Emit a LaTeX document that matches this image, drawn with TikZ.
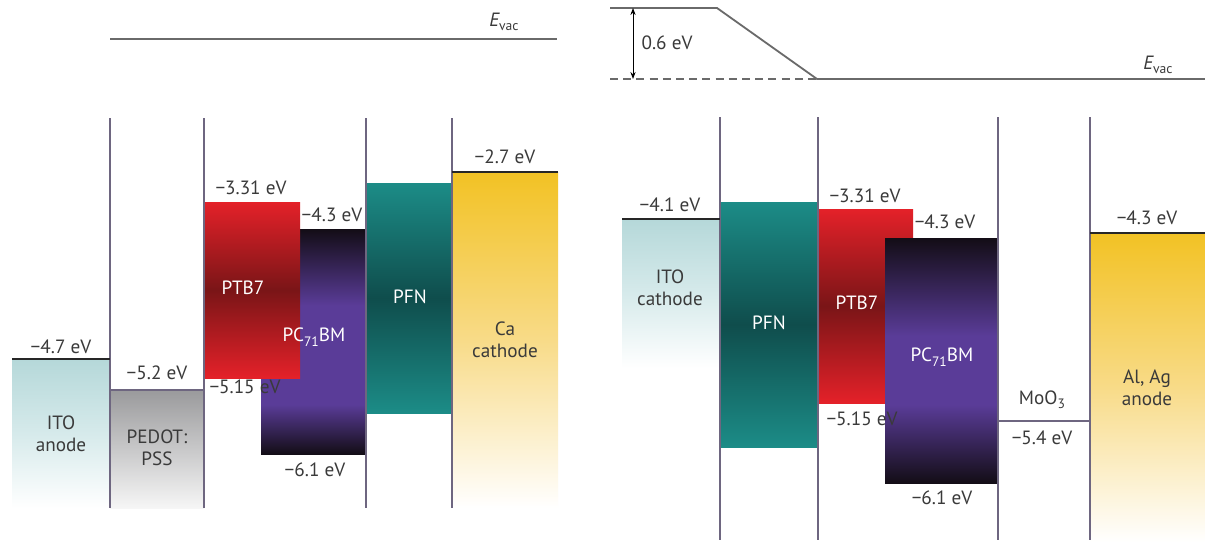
\documentclass[tikz,border=0pt]{standalone}
\usepackage{fontspec}
\setmainfont{PT Sans}
\usetikzlibrary{arrows.meta}
\definecolor{txt}{HTML}{3A3A3A}
\definecolor{sep}{HTML}{6E6680}
\definecolor{itoC}{HTML}{B5D8D9}
\definecolor{itoM}{HTML}{D6EAEB}
\definecolor{pedT}{HTML}{9A9A9C}
\definecolor{pedB}{HTML}{F6F6F6}
\definecolor{redB}{HTML}{E42129}
\definecolor{redD}{HTML}{7A1517}
\definecolor{purD}{HTML}{130D16}
\definecolor{purM}{HTML}{5A3C98}
\definecolor{pfnB}{HTML}{1C8C87}
\definecolor{pfnD}{HTML}{0F4D4C}
\definecolor{yelT}{HTML}{F2C224}
\definecolor{yelM}{HTML}{F8DB88}
\definecolor{vacC}{HTML}{6A6A6A}
% the path is mapped onto the band 25bp..75bp of the shading
\pgfdeclareverticalshading{pursL}{100bp}{color(0bp)=(purD); color(25bp)=(purD); color(36bp)=(purM); color(58bp)=(purM); color(75bp)=(purD); color(100bp)=(purD)}
\pgfdeclareverticalshading{pursR}{100bp}{color(0bp)=(purD); color(25bp)=(purD); color(41bp)=(purM); color(55bp)=(purM); color(75bp)=(purD); color(100bp)=(purD)}
\newcommand\mn{−}
\newcommand\lsub[1]{\raisebox{-0.45ex}{\fontsize{6.8}{7}\selectfont #1}}
\begin{document}
\begin{tikzpicture}[x=0.5pt,y=-0.5pt,
  lbl/.style={font=\fontsize{9.6}{11}\selectfont, text=txt, inner sep=0pt, align=center},
  wlbl/.style={lbl, text=white},
  sepline/.style={draw=sep, line width=0.65pt},
  lvl/.style={draw=black!85, line width=0.6pt},
  vac/.style={draw=vacC, line width=0.9pt},
  redbox/.style={top color=redB, bottom color=redB, middle color=redD},
  pfnbox/.style={top color=pfnB, bottom color=pfnB, middle color=pfnD},
  yelbox/.style={top color=yelT, bottom color=white, middle color=yelM},
  itobox/.style={top color=itoC, bottom color=white, middle color=itoM}]
\useasboundingbox[fill=white] (0,0) rectangle (1205,542);

% ---------------- left panel ----------------
\shade[itobox] (12,359) rectangle (110,508);
\shade[top color=pedT, bottom color=pedB] (110,390) rectangle (204,508);
\shade[shading=pursL] (261,229) rectangle (366,454);
\shade[redbox] (204,202) rectangle (300,378);
\shade[pfnbox] (366,183) rectangle (452,413);
\shade[yelbox] (452,172) rectangle (558,508);

\foreach \xx in {110,204,366,452} \draw[sepline] (\xx,118) -- (\xx,508);
\draw[lvl] (12,359) -- (110,359);
\draw[sepline] (110,390) -- (204,390);
\draw[lvl] (452,172) -- (558,172);

\draw[vac] (110,39) -- (557,39);
\node[lbl] (evacL) at (504,22) {{\itshape E}\lsub{vac}};

\node[lbl] (itoLv) at (61,347) {\mn4.7 eV};
\node[lbl] (itoL) at (61,434) {ITO\\anode};
\node[lbl] (pedv) at (157,373) {\mn5.2 eV};
\node[lbl] (ped) at (157,448) {PEDOT:\\PSS};
\node[lbl] (ptbLt) at (251,188) {\mn3.31 eV};
\node[wlbl] (ptbL) at (243,288) {PTB7};
\node[lbl] (ptbLb) at (245,387) {\mn5.15 eV};
\node[lbl] (pcbLt) at (332,215) {\mn4.3 eV};
\node[wlbl] (pcbL) at (314,337) {PC\lsub{71}BM};
\node[lbl] (pcbLb) at (315,470) {\mn6.1 eV};
\node[wlbl] (pfnL) at (410,297) {PFN};
\node[lbl] (cav) at (505,157) {\mn2.7 eV};
\node[lbl] (ca) at (505,340) {Ca\\cathode};

% ---------------- right panel ----------------
\coordinate (vt1) at (610,8);
\coordinate (vt2) at (717,8);
\coordinate (vb1) at (817,79);
\coordinate (vb2) at (1205,79);
\coordinate (vd) at (610,79);
\coordinate (ar1) at (633,8);
\coordinate (ar2) at (633,79);
\draw[vac] (vt1) -- (vt2) -- (vb1) -- (vb2);
\draw[vac, dashed, dash pattern=on 4pt off 2.6pt] (vd) -- (vb1);
\draw[draw=black, line width=0.5pt, {Stealth[length=3.5pt,width=2.6pt]}-{Stealth[length=3.5pt,width=2.6pt]}] (ar1) -- (ar2);
\node[lbl] (dv) at (667,43) {0.6 eV};
\node[lbl] (evacR) at (1158,65) {{\itshape E}\lsub{vac}};

\shade[itobox] (622,219) rectangle (720,368);
\shade[pfnbox] (720,202) rectangle (818,447);
\shade[redbox] (818,209) rectangle (913,403);
\shade[shading=pursR] (885,238) rectangle (998,483);
\shade[yelbox] (1090,233) rectangle (1205,542);

\foreach \xx in {720,818,998,1090} \draw[sepline] (\xx,117) -- (\xx,540);
\draw[lvl] (622,219) -- (720,219);
\draw[sepline] (998,421) -- (1090,421);
\draw[lvl] (1090,233) -- (1205,233);

\node[lbl] (itoRv) at (670,205) {\mn4.1 eV};
\node[lbl] (itoR) at (670,288) {ITO\\cathode};
\node[wlbl] (pfnR) at (769,323) {PFN};
\node[lbl] (ptbRt) at (865,196) {\mn3.31 eV};
\node[wlbl] (ptbR) at (857,303) {PTB7};
\node[lbl] (ptbRb) at (862,419) {\mn5.15 eV};
\node[lbl] (pcbRt) at (945,222) {\mn4.3 eV};
\node[wlbl] (pcbR) at (942,357) {PC\lsub{71}BM};
\node[lbl] (pcbRb) at (942,498) {\mn6.1 eV};
\node[lbl] (moo) at (1042,400) {MoO\lsub{3}};
\node[lbl] (moov) at (1042,438) {\mn5.4 eV};
\node[lbl] (alv) at (1147,218) {\mn4.3 eV};
\node[lbl] (al) at (1147,388) {Al, Ag\\anode};
\end{tikzpicture}
\end{document}
